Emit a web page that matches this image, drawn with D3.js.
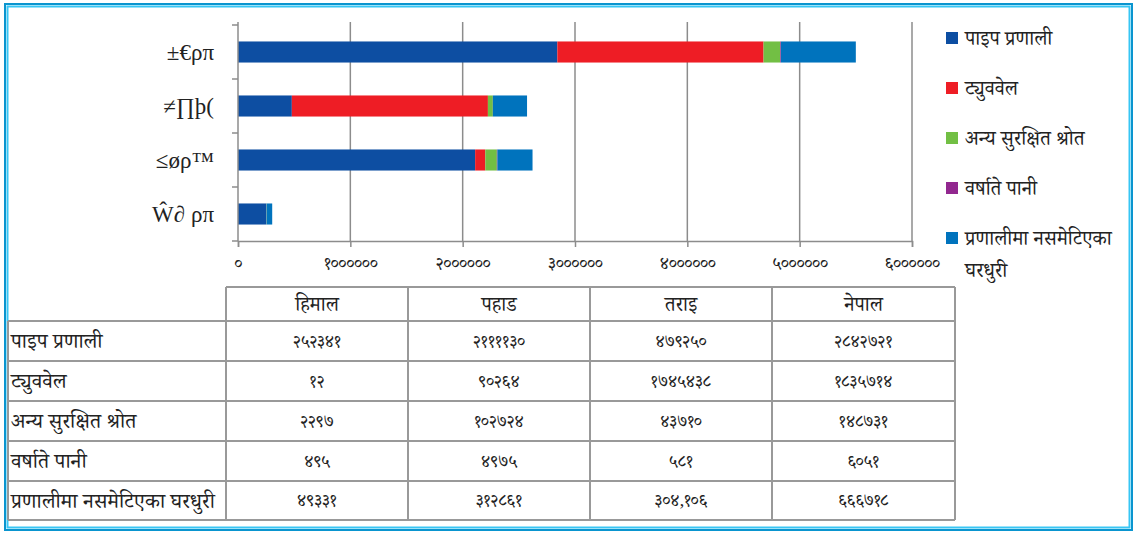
<!DOCTYPE html>
<html>
<head>
<meta charset="utf-8">
<script src="https://cdn.jsdelivr.net/npm/d3@7"></script>
<style>
  body { margin: 0; background: #fff; }
  svg { display: block; }
</style>
</head>
<body>
<svg width="1136" height="535"></svg>
<script>
// regions as in the table (left to right) and the legacy-font labels on the bars
const regions = ['हिमाल', 'पहाड', 'तराइ', 'नेपाल'];
const barLabels = ['Ŵ∂ ρπ', '≤øρ™', '≠∏þ(', '±€ρπ'];
const sources = ['पाइप प्रणाली', 'ट्युववेल', 'अन्य सुरक्षित श्रोत', 'वर्षाते पानी', 'प्रणालीमा नसमेटिएका घरधुरी'];

// households per source, order = regions
const pipe = [252341, 2111130, 479250, 2842721];
const tubewell = [12, 90264, 1745438, 1835714];
const otherSafe = [2297, 102724, 43710, 148731];
const rain = [495, 4975, 581, 6051];
const notCovered = [49331, 312861, 304106, 666718];

const xTicks = [0, 1000000, 2000000, 3000000, 4000000, 5000000, 6000000];
const colors = ['#0d4ea2', '#ee1d25', '#72bf44', '#92278f', '#0073bd'];

const series = [pipe, tubewell, otherSafe, rain, notCovered];
const devFont = 'Noto Serif Devanagari, Noto Sans Devanagari, Lohit Devanagari, FreeSerif, Noto Sans, sans-serif';

const toDev = s => String(s).replace(/[0-9]/g, c => '०१२३४५६७८९'[+c]);

const svg = d3.select('svg');

// outer double frame
svg.append('rect').attr('x', 5).attr('y', 4).attr('width', 1127).attr('height', 526)
    .attr('fill', 'none').attr('stroke', '#0a95cf').attr('stroke-width', 2);
svg.append('rect').attr('x', 7.5).attr('y', 6.5).attr('width', 1122).attr('height', 521)
    .attr('fill', 'none').attr('stroke', '#38c6f4').attr('stroke-width', 2);

// ---- bar chart ----
const rows = regions.map((r, i) => {
    const o = { region: r, label: barLabels[i] };
    sources.forEach((s, k) => o[s] = series[k][i]);
    return o;
});

const x = d3.scaleLinear().domain([0, 6000000]).range([238, 912]);
const y = d3.scaleBand()
    .domain(barLabels.slice().reverse())
    .range([25, 241])
    .paddingInner(0.61)
    .paddingOuter(0.305);

const chart = svg.append('g');

// vertical gridlines
chart.selectAll('line.grid').data(xTicks.slice(1)).enter().append('line')
    .attr('class', 'grid')
    .attr('x1', d => x(d)).attr('x2', d => x(d))
    .attr('y1', 22).attr('y2', 241)
    .attr('stroke', '#8c8c8c').attr('stroke-width', 1.5);

const stacked = d3.stack().keys(sources)(rows);

chart.selectAll('g.layer').data(stacked).enter().append('g')
    .attr('fill', (d, i) => colors[i])
    .selectAll('rect').data(d => d).enter().append('rect')
    .attr('x', d => x(d[0]))
    .attr('width', d => x(d[1]) - x(d[0]))
    .attr('y', d => y(d.data.label))
    .attr('height', y.bandwidth());

// x axis
const xAxis = d3.axisBottom(x).tickValues(xTicks).tickSize(6).tickPadding(10)
    .tickFormat(d => toDev(d));
const gx = chart.append('g').attr('transform', 'translate(0,241)').call(xAxis);
gx.attr('font-family', null).attr('font-size', null);
gx.select('.domain').attr('stroke', '#8c8c8c').attr('stroke-width', 1.5);
gx.selectAll('.tick line').attr('stroke', '#8c8c8c').attr('stroke-width', 1.5);
gx.selectAll('.tick text').style('font-family', devFont).style('font-size', '17px').attr('fill', '#222');

// y axis: line with ticks at band boundaries
chart.append('line').attr('x1', x(0)).attr('x2', x(0)).attr('y1', 22).attr('y2', 241)
    .attr('stroke', '#8c8c8c').attr('stroke-width', 1.5);
const step = y.step();
const bounds = d3.range(y.domain().length + 1).map(i => y.range()[0] + i * step);
chart.selectAll('line.ytick').data(bounds).enter().append('line')
    .attr('x1', x(0) - 6).attr('x2', x(0))
    .attr('y1', d => d).attr('y2', d => d)
    .attr('stroke', '#8c8c8c').attr('stroke-width', 1.5);

chart.selectAll('text.cat').data(y.domain()).enter().append('text')
    .attr('x', 214)
    .attr('y', d => y(d) + y.bandwidth() / 2)
    .attr('dy', '0.35em')
    .attr('text-anchor', 'end')
    .style('font-family', 'Liberation Serif, serif')
    .style('font-size', '23px')
    .attr('fill', '#222')
    .text(d => d);

// legend
const legend = svg.append('g').attr('transform', 'translate(946,0)');
sources.forEach((s, i) => {
    const cy = 38 + i * 50;
    legend.append('rect').attr('x', 0).attr('y', cy - 6).attr('width', 12).attr('height', 12)
        .attr('fill', colors[i]);
    const t = legend.append('text').attr('x', 19).attr('y', cy).attr('dy', '0.35em')
        .style('font-family', devFont).style('font-size', '20px').attr('fill', '#222');
    if (i === 4) {
        t.text('प्रणालीमा नसमेटिएका');
        legend.append('text').attr('x', 19).attr('y', cy + 32).attr('dy', '0.35em')
            .style('font-family', devFont).style('font-size', '20px').attr('fill', '#222').text('घरधुरी');
    } else {
        t.text(s);
    }
});

// ---- data table ----
const colX = [8, 226, 408, 590, 772, 955];
const rowY = [287, 321, 361, 401, 441, 481, 520];
const table = svg.append('g');
const lineColor = '#999';

// horizontal lines
rowY.forEach((yy, i) => {
    table.append('line').attr('x1', i === 0 ? colX[1] : colX[0]).attr('x2', colX[5])
        .attr('y1', yy).attr('y2', yy).attr('stroke', lineColor).attr('stroke-width', 2);
});
// vertical lines
colX.forEach((xx, i) => {
    table.append('line').attr('x1', xx).attr('x2', xx)
        .attr('y1', i === 0 ? rowY[1] : rowY[0]).attr('y2', rowY[6])
        .attr('stroke', lineColor).attr('stroke-width', 2);
});

// header
regions.forEach((r, j) => {
    table.append('text')
        .attr('x', (colX[j + 1] + colX[j + 2]) / 2)
        .attr('y', (rowY[0] + rowY[1]) / 2).attr('dy', '0.35em')
        .attr('text-anchor', 'middle')
        .style('font-family', devFont).style('font-size', '20px').attr('fill', '#222')
        .text(r);
});

// body
sources.forEach((s, i) => {
    const cy = (rowY[i + 1] + rowY[i + 2]) / 2;
    table.append('text').attr('x', 11).attr('y', cy).attr('dy', '0.35em')
        .style('font-family', devFont).style('font-size', '21px').attr('fill', '#222')
        .text(s);
    series[i].forEach((v, j) => {
        // the source prints this one cell with a thousands separator
        const txt = (i === 4 && j === 2) ? d3.format(',')(v) : String(v);
        table.append('text')
            .attr('x', (colX[j + 1] + colX[j + 2]) / 2)
            .attr('y', cy).attr('dy', '0.35em')
            .attr('text-anchor', 'middle')
            .style('font-family', devFont).style('font-size', '17px').attr('fill', '#222')
            .text(toDev(txt));
    });
});
</script>
</body>
</html>
